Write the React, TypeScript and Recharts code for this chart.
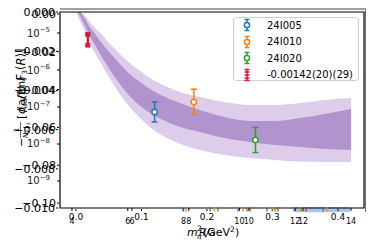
import React from "react";
import { ComposedChart, Area, Scatter, XAxis, YAxis, ErrorBar, ReferenceArea } from "recharts";

const FONT = "DejaVu Sans, sans-serif";
const W = 374;
const H = 249;

// fit band vs m_pi^2 (GeV^2)
const bandX = [0.0, 0.006, 0.014, 0.021, 0.029, 0.037, 0.052, 0.067, 0.082, 0.098, 0.113, 0.136, 0.159, 0.189, 0.227, 0.266, 0.304, 0.342, 0.38, 0.42];
const outerHi = [0.00071, 0.0001, -0.0002, -0.00051, -0.00082, -0.00107, -0.00163, -0.00214, -0.0026, -0.00301, -0.00337, -0.00378, -0.00408, -0.00434, -0.00459, -0.00474, -0.00474, -0.00464, -0.00449, -0.00439];
const innerHi = [0.00051, 0.00005, -0.00036, -0.00077, -0.00112, -0.00148, -0.00209, -0.00265, -0.00316, -0.00357, -0.00393, -0.00434, -0.00464, -0.005, -0.00536, -0.00556, -0.00556, -0.00541, -0.0052, -0.00495];
const innerLo = [0.0002, -0.0002, -0.00071, -0.00122, -0.00168, -0.00214, -0.00296, -0.00367, -0.00429, -0.0048, -0.00515, -0.00556, -0.00587, -0.00612, -0.00643, -0.00663, -0.00679, -0.00689, -0.00699, -0.00704];
const outerLo = [0.0, -0.00046, -0.00102, -0.00158, -0.00209, -0.00255, -0.00342, -0.00418, -0.00485, -0.00541, -0.00587, -0.00638, -0.00673, -0.00704, -0.0073, -0.00745, -0.00755, -0.00763, -0.00765, -0.00765];

// lattice ensembles
const ensembles = ["24I005", "24I010", "24I020"];
const ensColors = ["#1f77b4", "#ff7f0e", "#2ca02c"];
const ensX = [0.12, 0.18, 0.274];
const ensY = [-0.0051, -0.00459, -0.00653];
const ensErr = [0.00051, 0.00065, 0.00064];

// physical point
const physLabel = "-0.00142(20)(29)";
const physColor = "#dc143c";
const physX = 0.018;
const physY = -0.00142;
const physStat = 0.0002;
const physSys = 0.00029;
const physTot = 0.00035;

// ticks
const xTicks = [0, 0.1, 0.2, 0.3, 0.4];
const yTicks = [0, -0.002, -0.004, -0.006, -0.008, -0.01];
const yTicks2 = [0, -0.02, -0.04, -0.06, -0.08, -0.1];
const logTicks = [1e-5, 1e-6, 1e-7, 1e-8, 1e-9];
// R/a ticks of the two overlaid axes, both placed on the first one's scale
const rTicks1 = [4, 6, 8, 10, 12, 14];
const rTicks2 = [6.15, 8.19, 10.34, 12.28];
const rTicks2Labels = ["6", "8", "10", "12"];

// coloured marks on the bottom spine (R/a)
const rugBlue = [7.98, 8.95, 9.95, 10.99, 11.96, 13.0];
const rugOrange = [8.09, 9.09, 10.13, 11.17, 12.14, 13.14];
const rugGreen = [9.23, 10.27, 11.28, 12.24];
const rugRed = [10.38, 11.38, 12.39];
const rugSets = [rugBlue, rugOrange, rugGreen, rugRed];
const rugColors = ["#1f77b4", "#ff7f0e", "#2ca02c", "#d62728"];
const spanR = [11.99, 13.96];

const bandData = bandX.map((m2, i) => ({
  m2,
  outer: [outerLo[i], outerHi[i]],
  inner: [innerLo[i], innerHi[i]],
}));

const rTicksAll = [...rTicks1, ...rTicks2].sort((a, b) => a - b);
const rLabel = (v: number) => {
  const j = rTicks2.indexOf(v);
  return j >= 0 ? rTicks2Labels[j] : String(v);
};

const minus = (s: string) => s.replace("-", "\u2212");

const MainXTick = (p: any) => (
  <text x={p.x} y={p.y + 7} textAnchor="middle" fontSize={9} fontFamily={FONT} fill="#000">
    {p.payload.value.toFixed(1)}
  </text>
);
const RTick = (p: any) => (
  <text x={p.x} y={p.y + 11} textAnchor="middle" fontSize={8} fontFamily={FONT} fill="#000">
    {rLabel(p.payload.value)}
  </text>
);
const LinTick = (p: any) => (
  <text x={p.x} y={p.y + 4} textAnchor="end" fontSize={11} fontFamily={FONT} fill="#000">
    {p.payload.value === 0 ? "0.000" : minus(p.payload.value.toFixed(3))}
  </text>
);
const Lin2Tick = (p: any) => (
  <text x={p.x} y={p.y + 4} textAnchor="end" fontSize={11} fontFamily={FONT} fill="#000">
    {p.payload.value === 0 ? "0.00" : minus(p.payload.value.toFixed(2))}
  </text>
);
const LogTick = (p: any) => (
  <text x={p.x} y={p.y + 3.5} textAnchor="end" fontSize={10} fontFamily={FONT} fill="#222">
    10<tspan dy={-4.5} fontSize={7}>{"\u2212" + Math.abs(Math.round(Math.log10(p.payload.value)))}</tspan>
  </text>
);

const XLabel = () => (
  <g fontFamily={FONT} fill="#000">
    <text x={187} y={236} fontSize={11} fontStyle="italic">m</text>
    <text x={197} y={231} fontSize={7.5}>2</text>
    <text x={197} y={239} fontSize={7.5} fontStyle="italic">π</text>
    <text x={199} y={236} fontSize={10} fontStyle="italic">R/a</text>
    <text x={203} y={236} fontSize={11}>
      (GeV<tspan dy={-4} fontSize={7.5}>2</tspan><tspan dy={4}>)</tspan>
    </text>
  </g>
);

const YLabel = () => (
  <g transform="translate(21, 95) rotate(-90)" fontFamily={FONT} fill="#000">
    <text x={-52} y={4} fontSize={11}>{"\u2212"}</text>
    <text x={-35} y={-2.5} fontSize={7} textAnchor="middle">1</text>
    <line x1={-43} x2={-27} y1={-0.5} y2={-0.5} stroke="#000" strokeWidth={0.6} />
    <text x={-35} y={7} fontSize={7} textAnchor="middle" fontStyle="italic">
      N<tspan fontSize={5} dy={1.5}>K+1</tspan>
    </text>
    <text x={-24} y={4} fontSize={11}>[</text>
    <text x={-19} y={4} fontSize={11} fontStyle="italic">
      ϕ<tspan fontSize={7} dy={2}>sd</tspan><tspan dy={-2}>(ℓ)</tspan>
    </text>
    <text x={-15} y={4} fontSize={11}>(a/fm)</text>
    <text x={14} y={4} fontSize={11.5}>
      <tspan fontStyle="italic">F</tspan><tspan fontSize={7} dy={2}>3</tspan><tspan dy={-2}>(</tspan><tspan fontStyle="italic">R</tspan>)]
    </text>
  </g>
);

const OpenCircle = (color: string) => (p: any) => (
  <circle cx={p.cx} cy={p.cy} r={2.7} fill="#fff" stroke={color} strokeWidth={1.5} />
);
const RugMark = (color: string) => (p: any) => (
  <line x1={p.cx} x2={p.cx} y1={p.cy - 1} y2={p.cy + 3.5} stroke={color} strokeWidth={1.3} />
);

const LegendIcon = ({ color, ladder }: { color: string; ladder?: boolean }) => (
  <svg width={14} height={16} style={{ display: "block" }}>
    <line x1={7} x2={7} y1={2.5} y2={13.5} stroke={color} strokeWidth={1.5} />
    {(ladder ? [2.5, 5, 8, 11, 13.5] : [2.5, 13.5]).map((y) => (
      <line key={y} x1={4.5} x2={9.5} y1={y} y2={y} stroke={color} strokeWidth={1.5} />
    ))}
    {!ladder && <circle cx={7} cy={8} r={2.6} fill="#fff" stroke={color} strokeWidth={1.5} />}
  </svg>
);

export default function App() {
  const legendRows = [
    ...ensembles.map((n, i) => ({ name: n, color: ensColors[i], ladder: false })),
    { name: physLabel, color: physColor, ladder: true },
  ];
  return (
    <div style={{ position: "relative", width: W, height: H, margin: -8 }}>
      <ComposedChart width={W} height={H} data={bandData} margin={{ top: 12, right: 10, bottom: 0, left: 8 }}>
        <XAxis xAxisId="c_main" type="number" dataKey="m2" domain={[-0.0244, 0.4397]} allowDataOverflow ticks={xTicks}
          interval={0} height={40} axisLine={false} tickLine={{ stroke: "#000" }} tickSize={2} tickMargin={2}
          tick={MainXTick} label={<XLabel />} />
        <XAxis xAxisId="a_r1" type="number" dataKey="r" domain={[3.57, 14.466]} ticks={rTicksAll} interval={0} height={1}
          axisLine={false} tickSize={3} tickMargin={2} tickLine={{ stroke: "#000" }} tick={RTick} />
        <YAxis yAxisId="c_lin" type="number" domain={[-0.01, 0]} allowDataOverflow ticks={yTicks} interval={0} width={50}
          axisLine={false} tickSize={2} tickMargin={1} tickLine={{ stroke: "#000" }} tick={LinTick}
          label={<YLabel />} />
        <YAxis yAxisId="b_lin2" type="number" domain={[-0.1026, 0.001]} ticks={yTicks2} interval={0} width={1}
          axisLine={false} tickSize={2} tickMargin={1} tickLine={{ stroke: "#000" }} tick={Lin2Tick} />
        <YAxis yAxisId="a_log" type="number" scale="log" domain={[1.86e-10, 3.7e-5]} allowDataOverflow ticks={logTicks}
          interval={0} width={1} axisLine={false} tickSize={3} tickMargin={7} tickLine={{ stroke: "#000" }} tick={LogTick} />

        <Area xAxisId="c_main" yAxisId="c_lin" type="monotone" dataKey="outer" stroke="none" fill="#ddcdea" fillOpacity={1} isAnimationActive={false} />
        <Area xAxisId="c_main" yAxisId="c_lin" type="monotone" dataKey="inner" stroke="none" fill="#b193cd" fillOpacity={1} isAnimationActive={false} />

        <ReferenceArea xAxisId="a_r1" yAxisId="c_lin" x1={spanR[0]} x2={spanR[1]} y1={-0.01022} y2={-0.00995}
          fill="#a9c8e6" fillOpacity={1} stroke="none" ifOverflow="visible" />
        <ReferenceArea xAxisId="c_main" yAxisId="c_lin" x1={-0.0244} x2={0.4397} y1={-0.01} y2={0}
          fill="none" stroke="#000" strokeWidth={1.2} ifOverflow="visible" />

        {rugSets.map((set, i) => (
          <Scatter key={"rug" + i} xAxisId="a_r1" yAxisId="b_lin2" dataKey="v"
            data={set.map((r) => ({ r, v: -0.1026 }))} shape={RugMark(rugColors[i])} isAnimationActive={false} />
        ))}

        {ensembles.map((name, i) => (
          <Scatter key={name} name={name} xAxisId="c_main" yAxisId="c_lin" dataKey="v"
            data={[{ m2: ensX[i], v: ensY[i], err: ensErr[i] }]} shape={OpenCircle(ensColors[i])} isAnimationActive={false}>
            <ErrorBar dataKey="err" direction="y" width={3} stroke={ensColors[i]} strokeWidth={1.5} />
          </Scatter>
        ))}

        <Scatter name={physLabel} xAxisId="c_main" yAxisId="c_lin" dataKey="v"
          data={[{ m2: physX, v: physY, stat: physStat, sys: physSys, tot: physTot }]}
          shape={() => <g />} isAnimationActive={false}>
          <ErrorBar dataKey="stat" direction="y" width={2.5} stroke={physColor} strokeWidth={1.8} />
          <ErrorBar dataKey="sys" direction="y" width={2.5} stroke={physColor} strokeWidth={1.8} />
          <ErrorBar dataKey="tot" direction="y" width={2.5} stroke={physColor} strokeWidth={1.8} />
        </Scatter>
      </ComposedChart>

      {/* outer frame of the second axes */}
      <div style={{ position: "absolute", left: 60, top: 8, width: 307, height: 204, boxSizing: "border-box",
        borderTop: "2px solid #a0a0a0", borderRight: "2px solid #6a6a6a", pointerEvents: "none" }} />

      <div style={{ position: "absolute", left: 233, top: 17, width: 126, height: 64, boxSizing: "border-box",
        border: "1px solid #d0d0d0", borderRadius: 3, background: "rgba(255,255,255,0.85)", fontFamily: FONT, fontSize: 10 }}>
        {legendRows.map((row, i) => (
          <div key={row.name} style={{ position: "absolute", left: 6, top: -1 + i * 16.6, height: 16, display: "flex", alignItems: "center" }}>
            <LegendIcon color={row.color} ladder={row.ladder} />
            <span style={{ marginLeft: 13, whiteSpace: "nowrap", color: "#000" }}>{row.name}</span>
          </div>
        ))}
      </div>
    </div>
  );
}
